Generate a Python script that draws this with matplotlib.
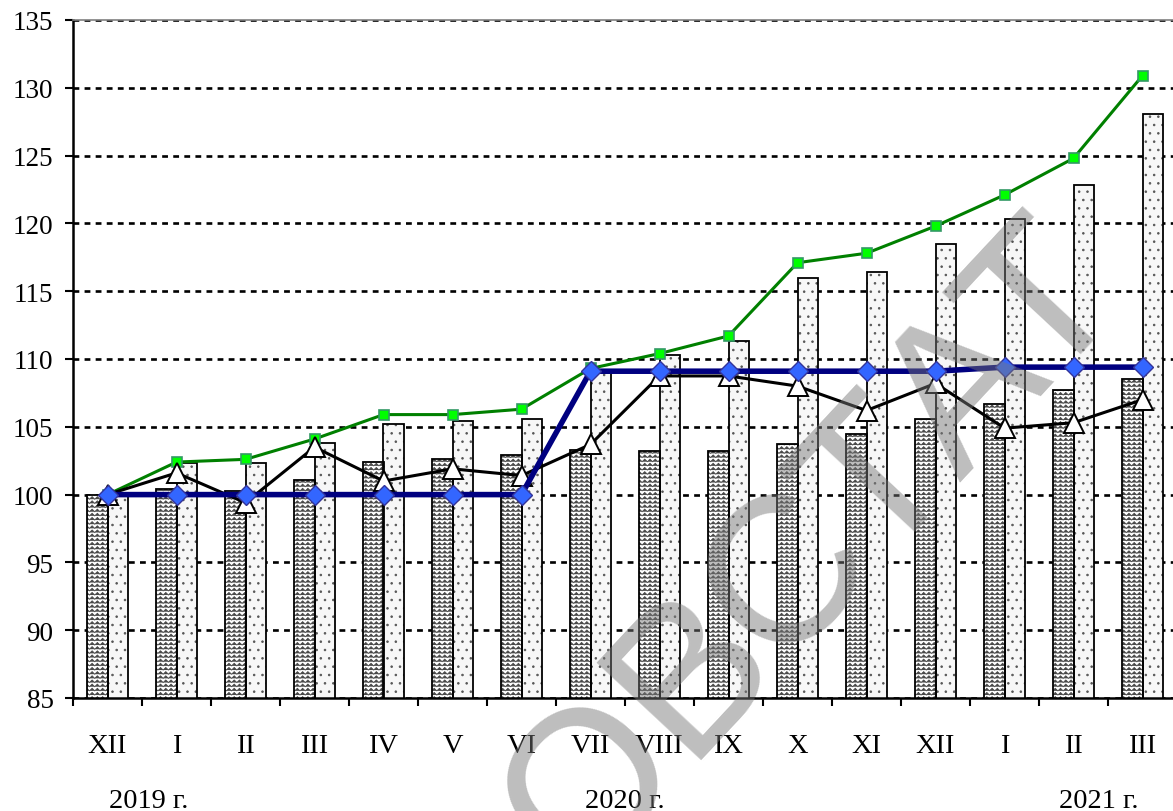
import warnings
import numpy as np
import matplotlib
matplotlib.use('Agg')
import matplotlib.pyplot as plt
import matplotlib.hatch as mhatch
from matplotlib.path import Path

warnings.filterwarnings('ignore')

# data
months = ['XII', 'I', 'II', 'III', 'IV', 'V', 'VI', 'VII', 'VIII', 'IX',
          'X', 'XI', 'XII', 'I', 'II', 'III']
years = ['2019 г.', '2020 г.', '2021 г.']
year_pos = [0.6, 7.5, 14.37]

wavy = [100.0, 100.4, 100.3, 101.1, 102.4, 102.6, 102.9, 103.3, 103.2, 103.2,
        103.7, 104.5, 105.6, 106.7, 107.7, 108.5]
dotted = [100.0, 102.3, 102.3, 103.8, 105.2, 105.4, 105.6, 109.0, 110.3, 111.3,
          116.0, 116.4, 118.5, 120.3, 122.8, 128.1]
green = [100.0, 102.4, 102.6, 104.1, 105.9, 105.9, 106.3, 109.3, 110.4, 111.7,
         117.1, 117.8, 119.8, 122.1, 124.8, 130.9]
blue = [100.0, 100.0, 100.0, 100.0, 100.0, 100.0, 100.0, 109.1, 109.1, 109.1,
        109.1, 109.1, 109.1, 109.4, 109.4, 109.4]
black = [100.0, 101.6, 99.4, 103.5, 101.0, 101.9, 101.4, 103.7, 108.75, 108.75,
         108.0, 106.2, 108.2, 104.9, 105.3, 107.0]


# zigzag hatch for the first bar series ('~')
class WavyHatch(mhatch.HatchPatternBase):
    def __init__(self, hatch, density):
        self.num_rows = hatch.count('~') * density
        self.num_teeth = int(self.num_rows * 0.8)
        self.num_vertices = self.num_rows * (2 * self.num_teeth + 1)

    def set_vertices_and_codes(self, vertices, codes):
        n = self.num_rows
        k = 2 * self.num_teeth + 1
        xs = np.linspace(0, 1, k)
        amp = 0.62 / n
        dy = np.where(np.arange(k) % 2 == 0, -amp / 2, amp / 2)
        i = 0
        for r in range(n):
            vertices[i:i + k, 0] = xs
            vertices[i:i + k, 1] = (r + 0.5) / n + dy
            codes[i] = Path.MOVETO
            codes[i + 1:i + k] = Path.LINETO
            i += k


mhatch._hatch_types.append(WavyHatch)

plt.rcParams['font.family'] = ['Liberation Serif', 'DejaVu Serif']
plt.rcParams['hatch.linewidth'] = 0.6

fig = plt.figure(figsize=(11.73, 8.12), dpi=100)
ax = fig.add_axes([73 / 1173, 113 / 812, 1104 / 1173, 678 / 812])

x = np.arange(len(months))
w = 0.29
# hatch fill first (hatch takes the edge colour), then black outlines
ax.bar(x - w / 2, wavy, w, color='white', edgecolor='#484848', lw=0,
       hatch='~~~~', zorder=2)
ax.bar(x + w / 2, dotted, w, color='#f7f7f7', edgecolor='#555555', lw=0,
       hatch='..', zorder=2)
ax.bar(x - w / 2, wavy, w, fill=False, edgecolor='black', lw=1.3, zorder=2.1)
ax.bar(x + w / 2, dotted, w, fill=False, edgecolor='black', lw=1.3, zorder=2.1)

ax.plot(x, green, color='#008000', lw=2.2, marker='s', ms=7, mfc='#00ff00',
        mec='#339966', mew=1.2, zorder=3)
ax.plot(x, black, color='black', lw=2.2, marker='^', ms=14, mfc='white',
        mec='black', mew=1.4, zorder=4)
ax.plot(x, blue, color='#000080', lw=4, marker='D', ms=10, mfc='#3366ff',
        mec='#333399', mew=1, zorder=5)

ax.set_xlim(-0.5, 15.5)
ax.set_ylim(85, 135)
ax.set_yticks(range(85, 136, 5))
ax.yaxis.grid(True, color='black', lw=1.9, linestyle=(0, (2.2, 2.0)))
ax.set_axisbelow(True)

ax.set_xticks(x)
ax.set_xticklabels(months)
ax.set_xticks(np.arange(-0.5, 16, 1), minor=True)
ax.tick_params(axis='x', which='major', length=0, pad=25, labelsize=20.5)
ax.tick_params(axis='x', which='minor', length=6, width=1.5)
ax.tick_params(axis='y', length=6, width=1.5, labelsize=19.5, pad=8)

for s in ['left', 'bottom']:
    ax.spines[s].set_linewidth(1.8)
ax.spines['top'].set_color('#808080')
ax.spines['top'].set_linewidth(1.2)
ax.spines['right'].set_visible(False)

for lab, p in zip(years, year_pos):
    ax.text(p, -0.151, lab, transform=ax.get_xaxis_transform(), ha='center',
            va='center', fontsize=20.5)

# watermark
fig.text(813 / 1173, 1 - 551 / 812, 'ОВСТАТ', rotation=47, fontsize=150,
         color='#777777', alpha=0.48, ha='center', va='center',
         family='Liberation Sans', zorder=10)

fig.savefig('out.png', dpi=100)
